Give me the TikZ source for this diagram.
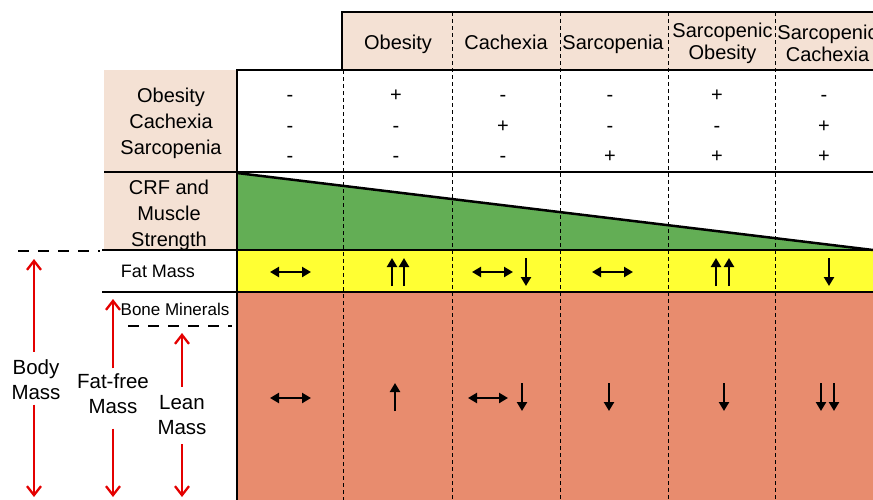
\documentclass[tikz,border=0pt]{standalone}
\usepackage{fontspec}
\setmainfont{Liberation Sans}
\usetikzlibrary{arrows.meta}
\definecolor{beige}{RGB}{244,225,212}
\definecolor{grn}{RGB}{99,174,85}
\definecolor{yel}{RGB}{255,255,51}
\definecolor{salm}{RGB}{232,140,110}
\definecolor{redarr}{RGB}{228,0,0}
\tikzset{
  txt/.style={font=\fontsize{20}{25}\selectfont, align=center, inner sep=0pt},
  frame/.style={line width=2.5pt},
  sepline/.style={line width=2pt},
  vdash/.style={line width=0.8pt, dash pattern=on 4pt off 3pt},
  hdash/.style={line width=2.5pt, dash pattern=on 11pt off 9pt},
  blkarr/.style={line width=2.4pt, -{Triangle[length=9pt,width=10pt]}},
  blkdbl/.style={line width=2.4pt, {Triangle[length=9pt,width=10pt]}-{Triangle[length=9pt,width=10pt]}},
  redline/.style={draw=redarr, line width=2.3pt, -{Straight Barb[length=9pt,width=14pt,line width=2.3pt]}},
  pm/.style={font=\fontsize{20}{24}\selectfont, inner sep=0pt, anchor=base}
}
\begin{document}
\begin{tikzpicture}[x=1pt,y=-1pt]
\useasboundingbox (0,0) rectangle (873,499);
\clip (0,0) rectangle (873,499);
% fills
\fill[beige] (342,12) rectangle (890,70);
\fill[beige] (104,70) rectangle (237,250);
\fill[grn] (237,173) -- (873,250) -- (237,250) -- cycle;
\fill[yel] (237,250) rectangle (890,292);
\fill[salm] (237,292) rectangle (890,510);
% dashed column separators
\foreach \x in {452,560,668,775} \draw[vdash] (\x,12) -- (\x,510);
\draw[vdash] (343,70) -- (343,510);
% CRF slope
\draw[line width=2.5pt] (237,173) -- (873,250);
% row separators
\draw[sepline] (104,172) -- (890,172);
\draw[sepline] (102,250) -- (890,250);
\draw[sepline] (102,292) -- (890,292);
% frames
\draw[frame] (342,70) -- (342,12) -- (890,12);
\draw[frame] (237,510) -- (237,70) -- (890,70);
% left dashed lines
\draw[hdash] (18,251) -- (100,251);
\draw[hdash] (128,326) -- (232,326);
% headers
\node[txt, anchor=base] (hOb) at (398,49) {Obesity};
\node[txt, anchor=base] (hCa) at (506,49) {Cachexia};
\node[txt, anchor=base] (hSa) at (613,49) {Sarcopenia};
\node[txt, font=\fontsize{20}{22}\selectfont] (hSO) at (722.5,43) {Sarcopenic\\Obesity};
\node[txt, font=\fontsize{20}{22}\selectfont] (hSC) at (827.5,43) {Sarcopenic\\Cachexia};
% left labels
\node[txt, font=\fontsize{20}{26}\selectfont] (lDis) at (171,123) {Obesity\\Cachexia\\Sarcopenia};
\node[txt, font=\fontsize{20}{26}\selectfont] (lCRF) at (169,215) {CRF and\\Muscle\\Strength};
\node[txt, font=\fontsize{18}{22}\selectfont] (lFat) at (158,271) {Fat Mass};
\node[txt, font=\fontsize{17}{20}\selectfont] (lBone) at (175,309) {Bone Minerals};
% plus / minus
\foreach \x/\a/\b/\c [count=\i] in {290/-/-/-, 396/+/-/-, 503/-/+/-, 610/-/-/+, 717/+/-/+, 824/-/+/+}{
  \node[pm] (pa\i) at (\x,101.5) {\a};
  \node[pm] (pb\i) at (\x,132.5) {\b};
  \node[pm] (pc\i) at (\x,162.5) {\c};
}
% fat mass row arrows
\draw[blkdbl] (270,272) -- (311,272);
\draw[blkarr] (392,286) -- (392,258);
\draw[blkarr] (404,286) -- (404,258);
\draw[blkdbl] (472,272) -- (513,272);
\draw[blkarr] (526,258) -- (526,286);
\draw[blkdbl] (592,272) -- (633,272);
\draw[blkarr] (716,286) -- (716,258);
\draw[blkarr] (729,286) -- (729,258);
\draw[blkarr] (829,258) -- (829,286);
% lean mass row arrows
\draw[blkdbl] (270,398) -- (311,398);
\draw[blkarr] (395,411) -- (395,383);
\draw[blkdbl] (468,398) -- (508,398);
\draw[blkarr] (522,383) -- (522,411);
\draw[blkarr] (609,383) -- (609,411);
\draw[blkarr] (724,383) -- (724,411);
\draw[blkarr] (821,383) -- (821,411);
\draw[blkarr] (834,383) -- (834,411);
% red measure arrows
\node[txt, font=\fontsize{20.5}{25}\selectfont] (bm) at (36,380) {Body\\Mass};
\coordinate (bmT) at (34,259);
\coordinate (bmB) at (34,497);
\draw[redline] ([yshift=8pt]bm.north -| bmT) -- (bmT);
\draw[redline] ([yshift=-4.5pt]bm.south -| bmB) -- (bmB);
\node[txt, font=\fontsize{20.5}{25}\selectfont] (ffm) at (113,394) {Fat-free\\Mass};
\coordinate (ffmT) at (113,299);
\coordinate (ffmB) at (113,497);
\draw[redline] ([yshift=5.5pt]ffm.north -| ffmT) -- (ffmT);
\draw[redline] ([yshift=-14.5pt]ffm.south -| ffmB) -- (ffmB);
\node[txt, font=\fontsize{20.5}{25}\selectfont] (lm) at (182,415) {Lean\\Mass};
\coordinate (lmT) at (182,333);
\coordinate (lmB) at (182,497);
\draw[redline] ([yshift=8.5pt]lm.north -| lmT) -- (lmT);
\draw[redline] ([yshift=-9.5pt]lm.south -| lmB) -- (lmB);
\end{tikzpicture}
\end{document}
